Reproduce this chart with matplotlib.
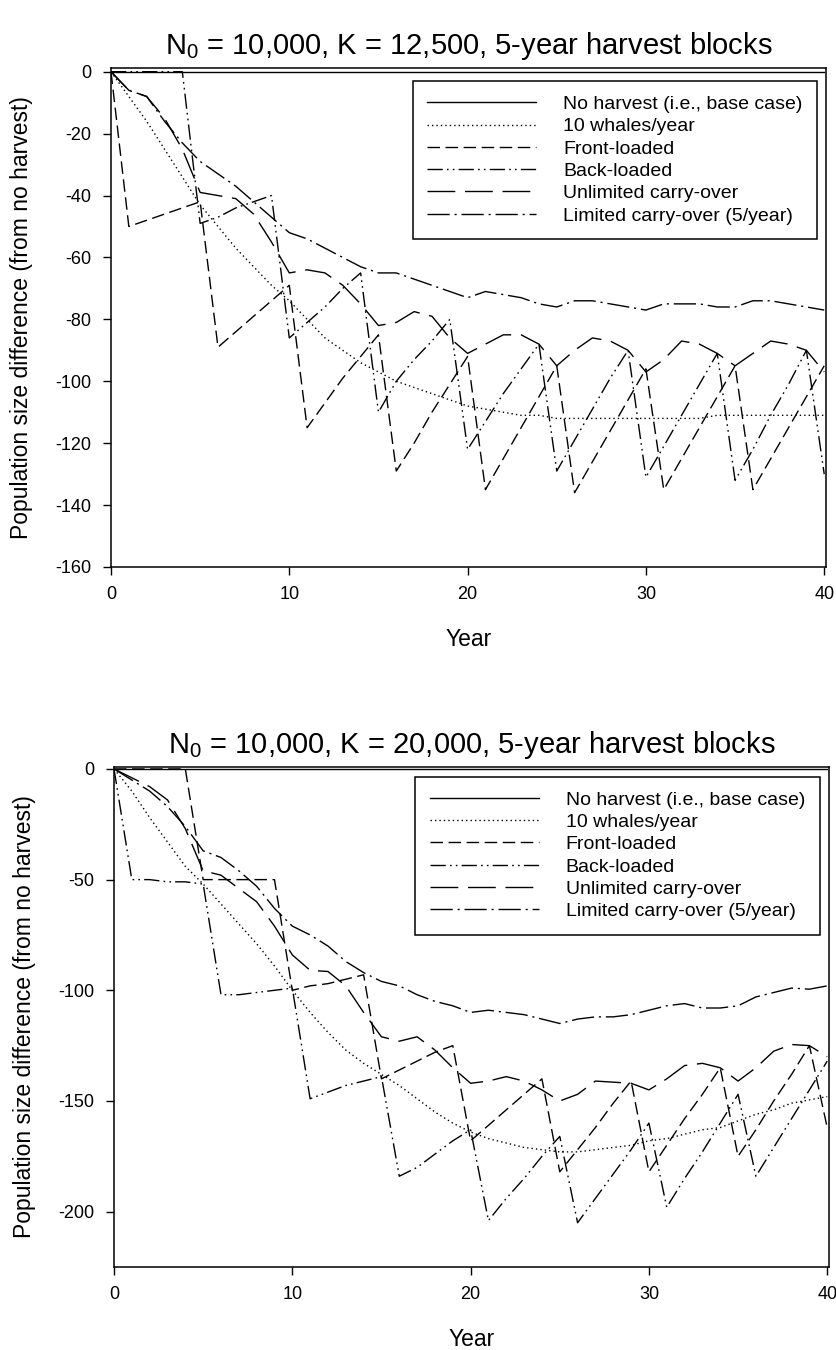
import matplotlib
matplotlib.use('Agg')
import matplotlib.pyplot as plt

plt.rcParams['font.family'] = ['Liberation Sans', 'DejaVu Sans']
plt.rcParams['mathtext.fontset'] = 'custom'
plt.rcParams['mathtext.rm'] = 'Liberation Sans'
plt.rcParams['mathtext.it'] = 'Liberation Sans:italic'
plt.rcParams['axes.unicode_minus'] = False
plt.rcParams['lines.scale_dashes'] = False

years = list(range(41))

labels = ["No harvest (i.e., base case)", "10 whales/year", "Front-loaded",
          "Back-loaded", "Unlimited carry-over", "Limited carry-over (5/year)"]

# ---- Top panel: N0 = 10,000, K = 12,500 ----
no_harvest_top = [0] * 41
ten_whales_top = [0, -8, -16, -25, -34, -43, -50, -57, -63, -69, -74, -80, -86, -90, -94,
                  -97, -100, -102, -104, -106, -108, -109, -110, -111, -111, -112, -112,
                  -112, -112, -112, -112, -112, -112, -112, -111, -111, -111, -111, -111,
                  -111, -111]
front_top = [0, -50, -48, -46, -44, -42, -89, -84, -79, -74, -69, -115, -107, -99, -92,
             -85, -129, -120, -110, -101, -92, -135, -125, -115, -105, -95, -136, -126,
             -116, -106, -96, -135, -125, -115, -105, -95, -135, -125, -115, -105, -95]
back_top = [0, 0, 0, 0, 0, -49, -47, -44, -42, -40, -86, -81, -76, -70, -65, -110, -100,
            -93, -87, -80, -122, -113, -104, -96, -88, -129, -119, -109, -99, -90, -131,
            -121, -111, -101, -91, -132, -122, -111, -101, -90, -130]
unlimited_top = [0, -6, -8, -15, -25, -39, -40, -41, -46, -55, -65, -64, -65, -69, -75,
                 -82, -81, -77.5, -79, -86, -91, -88, -85, -85, -88, -95, -90, -86, -87,
                 -90, -97, -93, -87, -88, -91, -95, -91, -87, -88, -90, -97]
limited_top = [0, -6, -8, -16, -23, -29, -33, -37, -42, -47, -52, -54, -57, -60, -63,
               -65, -65, -67, -69, -71, -73, -71, -72, -73, -75, -76, -74, -74, -75, -76,
               -77, -75, -75, -75, -76, -76, -74, -74, -75, -76, -77]

# ---- Bottom panel: N0 = 10,000, K = 20,000 ----
no_harvest_bot = [0] * 41
ten_whales_bot = [0, -10, -22, -33, -44, -52, -61, -70, -79, -89, -100, -110, -119, -127,
                  -133, -138, -143, -149, -155, -160, -164, -167, -169, -171, -172, -173,
                  -173, -172, -171, -170, -168, -167, -165, -163, -162, -159, -156, -154,
                  -151, -149.5, -148]
front_bot = [0, 0, 0, 0, 0, -50, -50, -50, -50, -50, -100, -98, -97, -95, -93, -140,
             -136, -132, -128, -125, -168, -161, -154, -147, -140, -182, -172, -162, -151,
             -141, -182, -170, -158, -147, -135, -175, -163, -150, -138, -125, -162]
back_bot = [0, -50, -50, -51, -51, -52, -102, -102, -101, -100, -99, -149, -146, -143,
            -141, -139, -184, -180, -174, -168, -163, -204, -194, -185, -175, -166, -205,
            -194, -183, -172, -160, -198, -185, -173, -160, -147, -184, -171, -158, -145,
            -132]
unlimited_bot = [0, -4, -8, -14, -27, -46, -48, -54, -60, -71, -84, -91, -91.5, -98,
                 -110, -121, -123, -121, -127, -135, -142, -141, -139, -141, -145, -150,
                 -147, -141, -141.5, -142, -145, -140, -134, -133, -135, -141, -135,
                 -127.5, -124.5, -125, -130]
limited_bot = [0, -5, -10, -17, -26, -37, -40, -46, -53, -63, -71, -75, -80, -87, -92,
               -96, -98, -102, -105, -107, -110, -109, -110, -111, -113, -115, -113, -112,
               -112, -111, -109, -107, -106, -108, -108, -107, -103, -101, -99, -99.5, -98]

styles = ['-', (0, (1.0, 2.2)), (0, (9.0, 4.0)), (0, (11, 3, 1.2, 3, 1.2, 3)),
          (0, (20, 7)), (0, (16, 3.5, 1.5, 3.5))]

fig = plt.figure(figsize=(8.36, 13.5), dpi=100)
W, H = 836.0, 1350.0


def make_panel(rect, series, ylim, yticks, title, legend_anchor):
    ax = fig.add_axes(rect)
    for vals, ls, lab in zip(series, styles, labels):
        ax.plot(years, vals, color='black', linestyle=ls, linewidth=1.0, label=lab)
    ax.set_xlim(0, 40.1)
    ax.set_ylim(*ylim)
    ax.set_xticks([0, 10, 20, 30, 40])
    ax.set_yticks(yticks)
    ax.set_yticklabels([str(v) for v in yticks])
    ax.tick_params(direction='out', length=6, width=1.0, labelsize=13, pad=8,
                   top=False, right=False)
    for sp in ax.spines.values():
        sp.set_linewidth(1.1)
    ax.set_xlabel('Year', fontsize=16.5, labelpad=18)
    ax.set_ylabel('Population size difference (from no harvest)', fontsize=16.5,
                  labelpad=16)
    ax.set_title(title, fontsize=21, pad=10)
    leg = ax.legend(loc='upper right', bbox_to_anchor=legend_anchor, borderaxespad=0,
                    fontsize=14, frameon=True, fancybox=False, edgecolor='black',
                    framealpha=1, handlelength=5.6, handletextpad=1.4,
                    labelspacing=0.24, borderpad=0.75)
    leg.get_frame().set_linewidth(1.1)
    return ax


top_series = [no_harvest_top, ten_whales_top, front_top, back_top, unlimited_top,
              limited_top]
bot_series = [no_harvest_bot, ten_whales_bot, front_bot, back_bot, unlimited_bot,
              limited_bot]

make_panel([111 / W, 1 - 567 / H, (826 - 111) / W, (567 - 68) / H], top_series,
           (-160, 1.2), [0, -20, -40, -60, -80, -100, -120, -140, -160],
           'N$_0$ = 10,000, K = 12,500, 5-year harvest blocks', (0.988, 0.974))
make_panel([114 / W, 1 - 1267 / H, (829 - 114) / W, (1267 - 766.5) / H], bot_series,
           (-225, 1.1), [0, -50, -100, -150, -200],
           'N$_0$ = 10,000, K = 20,000, 5-year harvest blocks', (0.987, 0.98))

fig.savefig('out.png', dpi=100)
